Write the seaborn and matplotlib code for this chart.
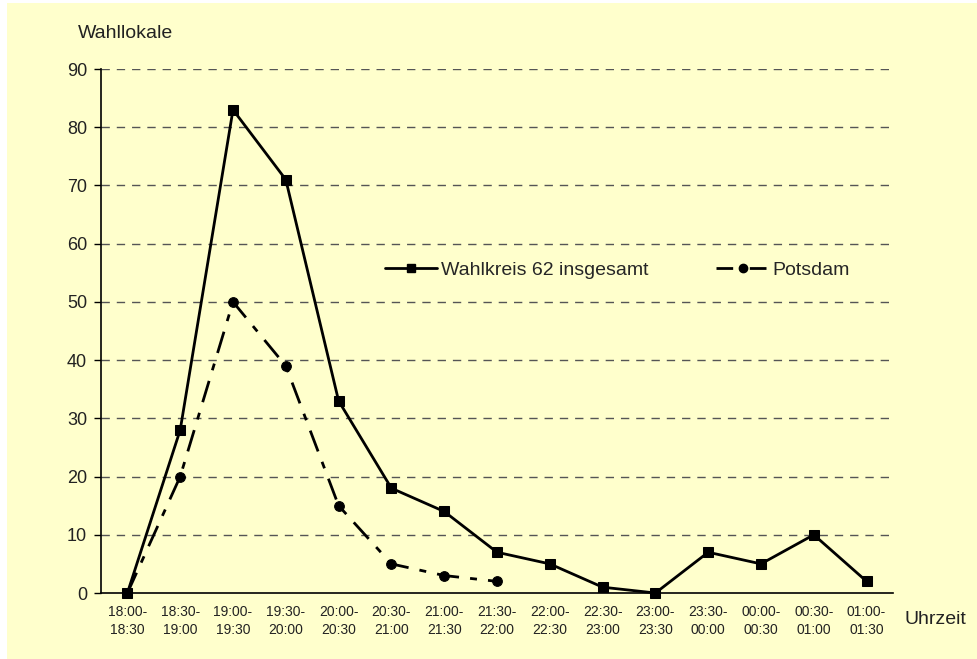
import matplotlib
matplotlib.use("Agg")
import matplotlib.pyplot as plt
import matplotlib.patches as mpatches
from matplotlib.lines import Line2D
import numpy as np
import seaborn as sns

## Data
zeiten = ["18:00-\n18:30", "18:30-\n19:00", "19:00-\n19:30", "19:30-\n20:00",
          "20:00-\n20:30", "20:30-\n21:00", "21:00-\n21:30", "21:30-\n22:00",
          "22:00-\n22:30", "22:30-\n23:00", "23:00-\n23:30", "23:30-\n00:00",
          "00:00-\n00:30", "00:30-\n01:00", "01:00-\n01:30"]
wahlkreis = [0, 28, 83, 71, 33, 18, 14, 7, 5, 1, 0, 7, 5, 10, 2]
potsdam = [0, 20, 50, 39, 15, 5, 3, 2]

sns.set_style("white")
plt.rcParams['font.family'] = ['Liberation Sans', 'DejaVu Sans']

bg = "#FFFFCC"
txt = "#222222"
pd_dash = [8, 4, 2.5, 4]

fig = plt.figure(figsize=(9.78, 6.59), dpi=100)
fig.patch.set_facecolor("white")
fig.patches.append(mpatches.Rectangle((7 / 978, 0), 1, 1 - 3 / 659,
                                      transform=fig.transFigure, facecolor=bg,
                                      edgecolor="none", zorder=-10))
ax = fig.add_axes([101 / 978, 1 - 593 / 659, 792 / 978, 524 / 659])
ax.set_facecolor(bg)

x_all = np.arange(len(wahlkreis))
x_pd = np.arange(len(potsdam))

sns.lineplot(x=x_all, y=wahlkreis, ax=ax, color="black", lw=2, marker="s",
             markersize=7, markeredgecolor="black", clip_on=False, zorder=4)
sns.lineplot(x=x_pd, y=potsdam, ax=ax, color="black", lw=2, marker="o",
             markersize=7, markeredgecolor="black", clip_on=False, zorder=4)
ax.lines[1].set_dashes(pd_dash)

ax.set_xlim(-0.5, len(zeiten) - 0.5)
ax.set_ylim(0, 90)
ax.set_yticks(range(0, 91, 10))
ax.set_xticks(x_all)
ax.set_xticklabels(zeiten, fontsize=10, color=txt, linespacing=1.3)
ax.set_xticks(np.arange(-0.5, len(zeiten), 1), minor=True)
ax.tick_params(axis="x", which="major", length=0, pad=9)
ax.tick_params(axis="x", which="minor", length=5, width=1, direction="out", color="black")
ax.tick_params(axis="y", length=5, width=1, direction="out", color="black",
               labelsize=13, labelcolor=txt, left=True, pad=5)

for v in range(10, 91, 10):
    ax.axhline(v, color="#555555", lw=1, ls=(0, (6, 5)), zorder=1)

for s in ["top", "right"]:
    ax.spines[s].set_visible(False)
for s in ["left", "bottom"]:
    ax.spines[s].set_color("black")
    ax.spines[s].set_linewidth(1.2)

ax.set_xlabel("")
ax.set_ylabel("")
fig.text(78 / 978, 1 - 33 / 659, "Wahllokale", fontsize=14, color=txt, va="center")
fig.text(905 / 978, 1 - 619 / 659, "Uhrzeit", fontsize=14, color=txt, va="center")

handles = [Line2D([], [], color="black", lw=2, marker="s", markersize=6),
           Line2D([], [], color="black", lw=2, marker="o", markersize=6,
                  dashes=[6, 6, 6, 6])]
ax.legend(handles, ["Wahlkreis 62 insgesamt", "Potsdam"], loc="center",
          bbox_to_anchor=(0.652, 0.616), ncol=2, frameon=False, fontsize=14,
          handlelength=2.7, handletextpad=0.2, columnspacing=3.5)

fig.savefig("out.png", dpi=100, facecolor=fig.get_facecolor())
